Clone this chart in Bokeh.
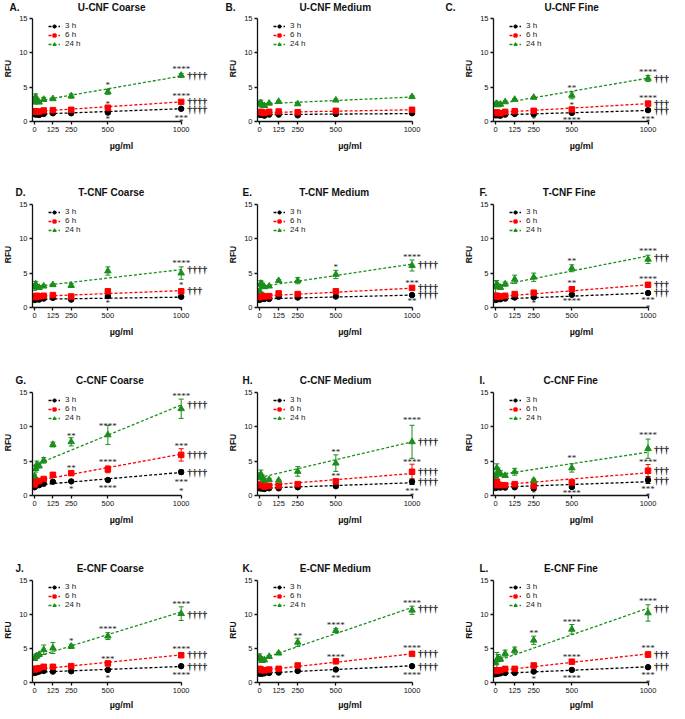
from bokeh.plotting import figure
from bokeh.models import (Range1d, LabelSet, Legend, LegendItem, Whisker, Title,
                          TeeHead, ColumnDataSource, FixedTicker)
from bokeh.layouts import row, column
from bokeh.embed import file_html
from bokeh.resources import INLINE

# ---------------- data ----------------
doses = [0, 7.8, 15.6, 31.25, 62.5, 125, 250, 500, 1000]
x_ticks = [0, 125, 250, 500, 1000]
y_ticks = [0, 5, 10, 15]
series_labels = ["3 h", "6 h", "24 h"]

letters = ["A.", "B.", "C.", "D.", "E.", "F.", "G.", "H.", "I.", "J.", "K.", "L."]
titles = ["U-CNF Coarse", "U-CNF Medium", "U-CNF Fine",
          "T-CNF Coarse", "T-CNF Medium", "T-CNF Fine",
          "C-CNF Coarse", "C-CNF Medium", "C-CNF Fine",
          "E-CNF Coarse", "E-CNF Medium", "E-CNF Fine"]

A_mean = [[1.1, 1.0, 1.05, 0.95, 1.1, 1.2, 1.2, 1.3, 1.85],
          [1.5, 1.45, 1.4, 1.45, 1.6, 1.65, 1.7, 2.0, 2.85],
          [2.8, 3.6, 2.95, 2.8, 3.2, 3.3, 3.7, 4.3, 6.7]]
A_err = [[0.1, 0.1, 0.1, 0.05, 0.1, 0.1, 0.1, 0.15, 0.1],
         [0.1, 0.1, 0.1, 0.1, 0.1, 0.1, 0.15, 0.1, 0.15],
         [0.2, 0.4, 0.3, 0.2, 0.3, 0.15, 0.3, 0.35, 0.25]]
A_fit = [[1.05, 1.85], [1.45, 2.85], [2.9, 6.6]]
A_stars = [(500, 5.6, "*"), (500, 2.9, "*"), (500, 0.7, "*"), (1000, 7.85, "****"),
           (1000, 3.95, "****"), (1000, 0.85, "***"), (1000, 0.15, "*")]
A_dag = [(6.7, "††††"), (2.85, "††††"), (1.75, "††††")]

B_mean = [[1.0, 0.95, 0.95, 0.85, 1.0, 1.0, 0.9, 1.1, 1.2],
          [1.35, 1.4, 1.35, 1.25, 1.4, 1.45, 1.35, 1.55, 1.7],
          [2.6, 2.7, 2.4, 2.3, 2.65, 2.9, 2.55, 3.1, 3.6]]
B_err = [[0.1, 0.1, 0.1, 0.05, 0.05, 0.05, 0.05, 0.1, 0.1],
         [0.1, 0.1, 0.1, 0.1, 0.1, 0.1, 0.1, 0.1, 0.15],
         [0.2, 0.4, 0.3, 0.2, 0.1, 0.1, 0.1, 0.15, 0.15]]
B_fit = [[1.0, 1.15], [1.3, 1.7], [2.55, 3.55]]
B_stars = []
B_dag = []

C_mean = [[0.9, 0.95, 0.9, 0.85, 1.0, 1.1, 1.05, 1.25, 1.65],
          [1.3, 1.3, 1.25, 1.2, 1.4, 1.5, 1.55, 1.75, 2.6],
          [2.5, 2.6, 2.4, 2.5, 2.85, 3.2, 3.5, 3.8, 6.25]]
C_err = [[0.1, 0.1, 0.1, 0.05, 0.05, 0.1, 0.1, 0.1, 0.1],
         [0.1, 0.1, 0.1, 0.1, 0.1, 0.1, 0.1, 0.15, 0.15],
         [0.25, 0.2, 0.2, 0.15, 0.15, 0.1, 0.1, 0.5, 0.45]]
C_fit = [[0.95, 1.6], [1.3, 2.6], [2.5, 6.3]]
C_stars = [(250, 0.6, "*"), (500, 5.1, "**"), (500, 2.7, "*"), (500, 0.55, "****"),
           (1000, 7.5, "****"), (1000, 3.7, "****"), (1000, 0.7, "***"), (1000, 0.15, "*")]
C_dag = [(6.2, "††††"), (2.6, "††††"), (1.65, "††††")]

D_mean = [[1.1, 1.2, 1.2, 1.15, 1.3, 1.4, 1.15, 1.65, 1.55],
          [1.5, 1.6, 1.7, 1.6, 1.7, 1.8, 1.6, 2.35, 2.35],
          [3.0, 3.4, 3.0, 2.9, 3.1, 3.3, 3.2, 5.3, 5.0]]
D_err = [[0.1, 0.1, 0.1, 0.1, 0.1, 0.1, 0.1, 0.1, 0.1],
         [0.15, 0.2, 0.15, 0.1, 0.1, 0.15, 0.15, 0.2, 0.3],
         [0.5, 0.4, 0.3, 0.2, 0.15, 0.15, 0.3, 0.6, 0.9]]
D_fit = [[1.2, 1.5], [1.6, 2.45], [3.05, 5.5]]
D_stars = [(500, 0.9, "*"), (1000, 6.8, "****"), (1000, 3.55, "*")]
D_dag = [(5.5, "††††"), (2.5, "†††")]

E_mean = [[1.1, 1.25, 1.3, 1.25, 1.25, 1.55, 1.45, 1.6, 1.8],
          [1.5, 1.8, 1.7, 1.6, 1.65, 2.05, 1.95, 2.35, 2.85],
          [2.4, 3.5, 3.3, 3.0, 3.1, 3.9, 3.9, 4.8, 6.1]]
E_err = [[0.1, 0.1, 0.1, 0.1, 0.1, 0.1, 0.1, 0.1, 0.1],
         [0.1, 0.15, 0.1, 0.1, 0.1, 0.15, 0.15, 0.15, 0.15],
         [0.3, 0.4, 0.4, 0.2, 0.15, 0.15, 0.45, 0.6, 0.8]]
E_fit = [[1.25, 1.8], [1.65, 2.8], [3.0, 6.3]]
E_stars = [(500, 6.2, "*"), (1000, 7.7, "****"), (1000, 3.8, "***"), (1000, 1.2, "**")]
E_dag = [(6.2, "††††"), (2.9, "††††"), (1.9, "††††")]

F_mean = [[1.1, 1.2, 1.2, 1.2, 1.3, 1.45, 1.5, 1.85, 2.1],
          [1.6, 1.7, 1.6, 1.6, 1.7, 1.95, 2.15, 2.65, 3.3],
          [3.0, 3.4, 3.1, 2.9, 3.4, 4.1, 4.4, 5.7, 7.0]]
F_err = [[0.1, 0.1, 0.1, 0.1, 0.1, 0.1, 0.1, 0.1, 0.1],
         [0.15, 0.15, 0.1, 0.1, 0.1, 0.1, 0.1, 0.15, 0.2],
         [0.9, 0.5, 0.3, 0.2, 0.3, 0.6, 0.6, 0.5, 0.6]]
F_fit = [[1.2, 2.1], [1.55, 3.3], [3.1, 7.5]]
F_stars = [(250, 1.0, "*"), (500, 7.1, "**"), (500, 3.8, "**"), (500, 1.2, "****"),
           (1000, 8.5, "****"), (1000, 4.4, "****"), (1000, 1.4, "***"), (1000, 0.15, "*")]
F_dag = [(7.3, "††††"), (3.3, "†††"), (2.2, "††††")]

G_mean = [[1.2, 1.4, 1.5, 1.5, 1.7, 2.0, 2.05, 2.25, 3.4],
          [1.6, 2.0, 2.1, 2.1, 2.4, 3.0, 3.25, 3.8, 5.9],
          [2.8, 3.9, 4.5, 4.3, 5.1, 7.4, 7.8, 8.8, 12.6]]
G_err = [[0.1, 0.15, 0.1, 0.1, 0.15, 0.15, 0.1, 0.15, 0.3],
         [0.1, 0.2, 0.2, 0.15, 0.2, 0.2, 0.2, 0.5, 0.9],
         [0.3, 0.5, 0.5, 0.3, 0.4, 0.35, 0.6, 1.4, 1.4]]
G_fit = [[1.5, 3.35], [2.1, 6.0], [4.4, 13.15]]
G_stars = [(250, 9.0, "**"), (250, 4.3, "**"), (250, 1.3, "*"), (500, 10.4, "****"),
           (500, 5.1, "****"), (500, 1.45, "****"), (1000, 14.7, "****"), (1000, 7.5, "***"),
           (1000, 2.25, "***"), (1000, 0.95, "*")]
G_dag = [(13.2, "††††"), (5.9, "††††"), (3.35, "††††")]

H_mean = [[1.05, 1.1, 1.0, 0.95, 1.05, 1.05, 1.2, 1.35, 2.0],
          [1.5, 1.6, 1.5, 1.3, 1.4, 1.4, 1.65, 2.05, 3.45],
          [2.8, 3.1, 2.6, 2.2, 2.3, 2.2, 3.5, 4.7, 7.8]]
H_err = [[0.1, 0.1, 0.1, 0.05, 0.05, 0.05, 0.1, 0.1, 0.4],
         [0.2, 0.2, 0.2, 0.1, 0.1, 0.1, 0.15, 0.3, 1.1],
         [0.5, 0.6, 0.4, 0.3, 0.2, 0.1, 0.7, 1.2, 2.4]]
H_fit = [[1.05, 1.85], [1.4, 3.2], [2.6, 7.8]]
H_stars = [(500, 6.6, "**"), (500, 3.1, "**"), (1000, 11.2, "****"), (1000, 5.15, "****"),
           (1000, 0.95, "***"), (1000, 0.15, "*")]
H_dag = [(7.8, "††††"), (3.45, "††††"), (2.05, "††††")]

I_mean = [[1.1, 1.3, 1.2, 1.15, 1.15, 1.2, 1.05, 1.25, 2.25],
          [1.5, 2.0, 1.6, 1.5, 1.5, 1.65, 1.4, 1.9, 3.6],
          [2.8, 4.0, 3.5, 3.2, 2.9, 3.45, 2.2, 4.0, 6.8]]
I_err = [[0.1, 0.2, 0.1, 0.1, 0.1, 0.1, 0.3, 0.2, 0.5],
         [0.15, 0.3, 0.2, 0.1, 0.1, 0.15, 0.15, 0.3, 0.9],
         [0.4, 0.6, 0.5, 0.4, 0.2, 0.5, 0.2, 0.6, 1.4]]
I_fit = [[1.2, 2.0], [1.5, 3.3], [2.95, 6.3]]
I_stars = [(250, 0.6, "*"), (500, 5.7, "**"), (500, 0.7, "****"), (1000, 9.05, "****"),
           (1000, 5.1, "****"), (1000, 1.3, "***"), (1000, 0.15, "*")]
I_dag = [(6.7, "††††"), (3.6, "††††"), (2.25, "††††")]

J_mean = [[1.4, 1.5, 1.5, 1.6, 1.7, 1.6, 1.65, 1.85, 2.4],
          [1.9, 2.0, 2.0, 2.1, 2.3, 2.3, 2.4, 2.8, 4.0],
          [3.5, 3.8, 3.9, 4.1, 4.8, 5.05, 5.3, 6.8, 10.1]]
J_err = [[0.1, 0.1, 0.1, 0.1, 0.1, 0.1, 0.1, 0.1, 0.1],
         [0.1, 0.1, 0.1, 0.1, 0.15, 0.1, 0.1, 0.15, 0.3],
         [0.2, 0.3, 0.3, 0.2, 0.7, 0.8, 0.3, 0.5, 1.0]]
J_fit = [[1.5, 2.35], [1.9, 4.05], [3.7, 10.35]]
J_stars = [(250, 6.4, "*"), (500, 8.1, "****"), (500, 3.8, "***"), (500, 0.95, "*"),
           (1000, 11.8, "****"), (1000, 5.2, "****"), (1000, 1.45, "****")]
J_dag = [(10.0, "††††"), (4.1, "††††"), (2.3, "††††")]

K_mean = [[1.3, 1.35, 1.3, 1.35, 1.4, 1.45, 1.7, 1.9, 2.4],
          [2.0, 1.9, 1.8, 1.8, 1.9, 2.0, 2.5, 3.1, 4.2],
          [3.7, 3.5, 3.2, 3.3, 3.8, 4.3, 5.9, 7.6, 10.6]]
K_err = [[0.1, 0.1, 0.1, 0.1, 0.1, 0.1, 0.1, 0.1, 0.1],
         [0.1, 0.1, 0.1, 0.1, 0.1, 0.1, 0.1, 0.1, 0.15],
         [0.5, 0.3, 0.2, 0.2, 0.15, 0.15, 0.6, 0.3, 0.6]]
K_fit = [[1.35, 2.45], [1.75, 4.2], [3.35, 11.0]]
K_stars = [(250, 7.15, "**"), (500, 8.8, "****"), (500, 4.05, "****"), (500, 0.95, "**"),
           (1000, 12.0, "****"), (1000, 5.4, "****"), (1000, 1.35, "****")]
K_dag = [(10.9, "††††"), (4.2, "††††"), (2.4, "††††")]

L_mean = [[1.2, 1.3, 1.3, 1.35, 1.4, 1.4, 1.6, 1.85, 2.25],
          [1.7, 1.8, 1.8, 1.8, 2.0, 2.0, 2.5, 3.05, 4.1],
          [2.9, 3.3, 3.6, 3.4, 4.25, 4.7, 6.2, 7.8, 10.2]]
L_err = [[0.1, 0.1, 0.1, 0.1, 0.1, 0.1, 0.1, 0.1, 0.1],
         [0.1, 0.1, 0.1, 0.1, 0.1, 0.1, 0.1, 0.1, 0.4],
         [0.3, 1.1, 0.5, 0.3, 0.5, 0.5, 0.6, 0.7, 1.2]]
L_fit = [[1.3, 2.3], [1.7, 4.2], [3.1, 10.9]]
L_stars = [(250, 7.5, "**"), (250, 0.8, "*"), (500, 9.2, "****"), (500, 4.0, "****"),
           (500, 0.95, "****"), (1000, 12.2, "****"), (1000, 5.4, "***"), (1000, 1.35, "***"),
           (1000, 0.15, "*")]
L_dag = [(10.9, "††††"), (4.1, "††††"), (2.3, "††††")]

panels = [(A_mean, A_err, A_fit, A_stars, A_dag), (B_mean, B_err, B_fit, B_stars, B_dag),
          (C_mean, C_err, C_fit, C_stars, C_dag), (D_mean, D_err, D_fit, D_stars, D_dag),
          (E_mean, E_err, E_fit, E_stars, E_dag), (F_mean, F_err, F_fit, F_stars, F_dag),
          (G_mean, G_err, G_fit, G_stars, G_dag), (H_mean, H_err, H_fit, H_stars, H_dag),
          (I_mean, I_err, I_fit, I_stars, I_dag), (J_mean, J_err, J_fit, J_stars, J_dag),
          (K_mean, K_err, K_fit, K_stars, K_dag), (L_mean, L_err, L_fit, L_stars, L_dag)]

# ---------------- style / layout ----------------
FONT = "Liberation Sans"
colors = ["#000000", "#ff0000", "#1b8e1b"]
markers = ["circle", "square", "triangle"]
msizes = [5.5, 5.5, 6.5]

PXU = 0.1524            # px per x unit
X0 = -14
col_w = [223, 219, 227]
col_bl = [25, 34, 51]
col_fw = [185, 185, 176]
row_bt = [14, 16, 16, 16]
row_bb = [63, 65, 65, 29]
row_xl_standoff = [6, 6, 6, 4]
FH = 107
Y1 = 15.4
TITLE_PX = 10

# letter left edge relative to frame left (screen px)
letter_dx = [[-23, -32, -48], [-17, -15, -14], [-17, -15, -14], [-17, -15, -14]]

# Arial/Liberation Sans Bold advance widths (per 1000 em) for title layout
ADV = {"A": 722, "B": 722, "C": 722, "D": 722, "E": 667, "F": 611, "G": 778, "H": 722,
       "I": 278, "J": 556, "K": 722, "L": 611, "M": 833, "N": 722, "T": 611, "U": 722,
       ".": 278, "-": 333, " ": 278, "a": 556, "d": 611, "e": 556, "i": 278, "m": 889,
       "n": 611, "o": 611, "r": 389, "s": 556, "u": 611}


def text_w(s):
    return sum(ADV.get(ch, 556) for ch in s) * TITLE_PX / 1000.0


def make_panel(idx):
    ri, ci = divmod(idx, 3)
    mean, err, fit, stars, dag = panels[idx]
    w = col_w[ci]
    fw = col_fw[ci]
    h = row_bt[ri] + FH + row_bb[ri]
    x1 = X0 + fw / PXU
    p = figure(width=w, height=h, x_range=Range1d(X0, x1), y_range=Range1d(0, Y1),
               output_backend="svg", toolbar_location=None,
               min_border_left=col_bl[ci], min_border_right=w - col_bl[ci] - fw,
               min_border_top=row_bt[ri], min_border_bottom=row_bb[ri],
               x_axis_label="µg/ml", y_axis_label="RFU")
    p.outline_line_color = None
    p.grid.visible = False
    p.xaxis.ticker = FixedTicker(ticks=x_ticks)
    p.yaxis.ticker = FixedTicker(ticks=y_ticks)
    p.xaxis.bounds = (X0, doses[-1])
    p.yaxis.bounds = (y_ticks[0], y_ticks[-1])
    for ax in (p.xaxis[0], p.yaxis[0]):
        ax.axis_line_width = 1.3
        ax.axis_line_color = "#111111"
        ax.major_tick_line_width = 1.3
        ax.major_tick_line_color = "#111111"
        ax.major_tick_in = 0
        ax.major_tick_out = 3
        ax.minor_tick_line_color = None
        ax.major_label_text_font = FONT
        ax.major_label_text_font_size = "7.5px"
        ax.major_label_text_color = "#111111"
        ax.major_label_standoff = 2
        ax.axis_label_text_font = FONT
        ax.axis_label_text_font_style = "bold"
        ax.axis_label_text_color = "#111111"
    p.xaxis.axis_label_text_font_size = "9px"
    p.xaxis.axis_label_standoff = row_xl_standoff[ri]
    p.yaxis.axis_label_text_font_size = "8.5px"
    p.yaxis.axis_label_standoff = 3

    items = []
    for k in range(3):
        c = colors[k]
        lr = p.line([doses[0], doses[-1]], fit[k], line_color=c, line_width=1.3,
                    line_dash="3 2")
        up = [m + e for m, e in zip(mean[k], err[k])]
        lo = [m - e for m, e in zip(mean[k], err[k])]
        src = ColumnDataSource(dict(x=doses, y=mean[k], upper=up, lower=lo))
        wk = Whisker(source=src, base="x", upper="upper", lower="lower",
                     line_color=c, line_width=1,
                     upper_head=TeeHead(size=5, line_color=c, line_width=1),
                     lower_head=TeeHead(size=5, line_color=c, line_width=1))
        p.add_layout(wk)
        sr = p.scatter("x", "y", source=src, marker=markers[k], size=msizes[k],
                       fill_color=c, line_color=c)
        items.append(LegendItem(label=series_labels[k], renderers=[lr, sr]))

    leg = Legend(items=items, location=(16, 73), orientation="vertical",
                 label_text_font=FONT, label_text_font_size="8px",
                 label_text_color="#222222",
                 glyph_width=12, glyph_height=8, label_height=8, label_standoff=5,
                 spacing=0, padding=0, margin=0, border_line_color=None,
                 background_fill_alpha=0)
    p.add_layout(leg)

    if stars:
        ssrc = ColumnDataSource(dict(x=[s[0] for s in stars], y=[s[1] for s in stars],
                                     t=[s[2] for s in stars]))
        p.add_layout(LabelSet(x="x", y="y", text="t", source=ssrc, text_align="center",
                              text_baseline="middle", y_offset=-2, text_font=FONT,
                              text_font_size="9px", text_color="#222222"))
    if dag:
        dsrc = ColumnDataSource(dict(x=[doses[-1]] * len(dag), y=[d[0] for d in dag],
                                     t=[d[1] for d in dag]))
        p.add_layout(LabelSet(x="x", y="y", text="t", source=dsrc, x_offset=6,
                              text_align="left", text_baseline="middle",
                              text_font=FONT, text_font_size="10px",
                              text_font_style="bold", text_color="#111111"))

    # panel letter + title on one line (title centred over x = 500)
    dx = letter_dx[ri][ci]
    letter = letters[idx]
    title_center = (500 - X0) * PXU
    gap = title_center - text_w(titles[idx]) / 2 - (dx + text_w(letter))
    n = max(1, int(round(gap / text_w(" "))))
    p.title = Title(text=letter + "\u00a0" * n + titles[idx], align="left", offset=dx,
                    vertical_align="top", standoff=2 if ri == 0 else 4,
                    text_font=FONT, text_font_size="%dpx" % TITLE_PX,
                    text_font_style="bold", text_color="#111111")
    return p


figs = [make_panel(i) for i in range(12)]
layout = column(*[row(*figs[r * 3:(r + 1) * 3]) for r in range(4)])

open("out.html", "w").write(file_html(layout, INLINE))
